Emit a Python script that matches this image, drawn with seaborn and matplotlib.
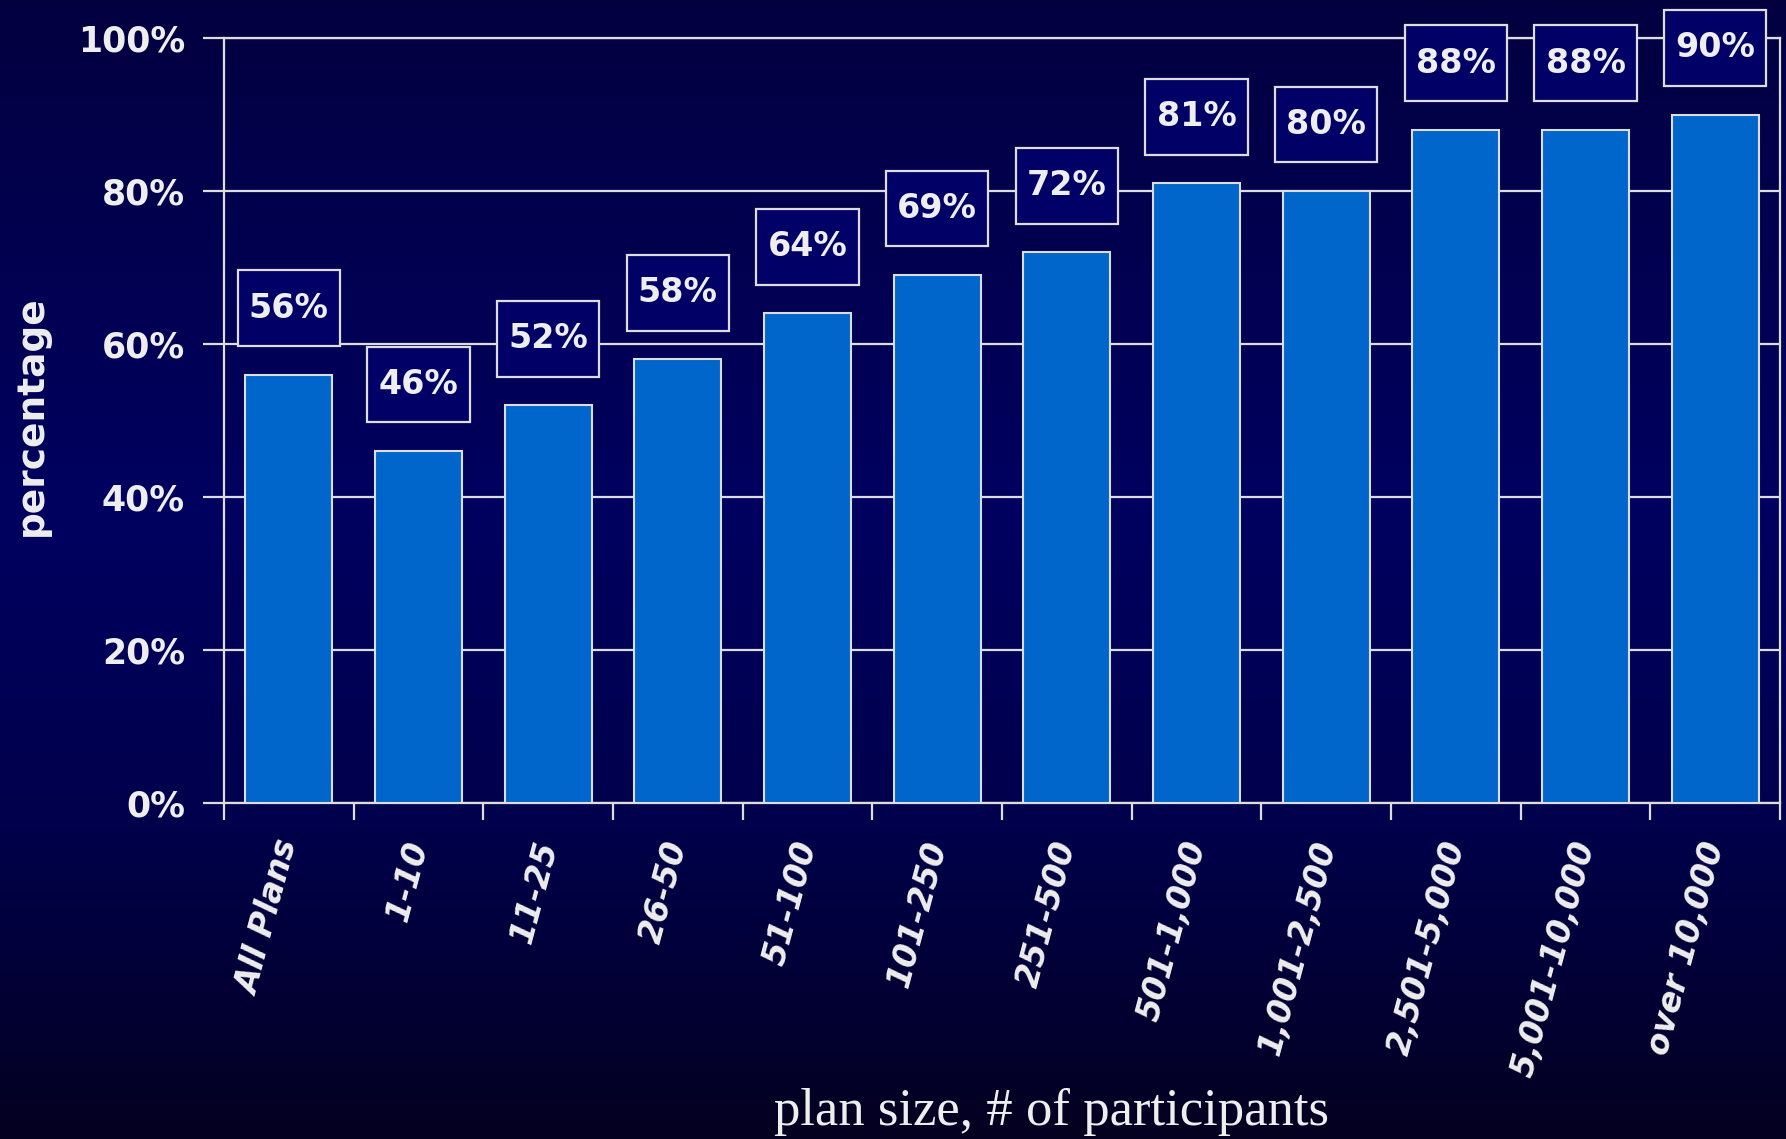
import numpy as np
import pandas as pd
import matplotlib
matplotlib.use("Agg")
import matplotlib.pyplot as plt
from matplotlib.colors import LinearSegmentedColormap
from matplotlib.patches import Rectangle
import seaborn as sns

categories = ["All Plans", "1-10", "11-25", "26-50", "51-100", "101-250", "251-500",
              "501-1,000", "1,001-2,500", "2,501-5,000", "5,001-10,000", "over 10,000"]
values = [56, 46, 52, 58, 64, 69, 72, 81, 80, 88, 88, 90]
yticks = [0, 20, 40, 60, 80, 100]
ytick_labels = ["0%", "20%", "40%", "60%", "80%", "100%"]

sns.set_theme(style="white")
plt.rcParams['font.family'] = ['DejaVu Sans']

W, H, DPI = 1786, 1139, 100
fig = plt.figure(figsize=(W / DPI, H / DPI), dpi=DPI)

# background gradient
bg = fig.add_axes([0, 0, 1, 1], zorder=-10)
cmap = LinearSegmentedColormap.from_list(
    "bg", [(0.0, "#030040"), (0.45, "#000060"), (0.72, "#00004c"), (1.0, "#040020")])
grad = np.linspace(0, 1, 256).reshape(-1, 1)
bg.imshow(grad, aspect="auto", cmap=cmap, extent=[0, 1, 0, 1], origin="upper")
bg.set_axis_off()

TXT = "#EEEEEE"
LINE = "#DDDDDD"

ax = fig.add_axes([224 / W, 1 - 803 / H, (1780 - 224) / W, (803 - 38) / H])
ax.patch.set_alpha(0)

df = pd.DataFrame({"plan": categories, "pct": values})
sns.barplot(data=df, x="plan", y="pct", color="#0066CC", edgecolor=LINE,
            linewidth=1.5, width=0.67, saturation=1, ax=ax, zorder=3)

ax.set_xlim(-0.5, len(categories) - 0.5)
ax.set_ylim(0, 100)
ax.set_axisbelow(True)
ax.yaxis.grid(True, color=LINE, linewidth=1.6, zorder=0)
ax.xaxis.grid(False)

for s in ["left", "bottom", "right", "top"]:
    ax.spines[s].set_color(LINE)
    ax.spines[s].set_linewidth(1.6)
    ax.spines[s].set_visible(True)

ax.set_yticks(yticks)
ax.set_yticklabels(ytick_labels, fontsize=25, fontweight="bold", color=TXT)
ax.tick_params(axis="y", which="major", left=True, length=15, width=1.6, color=LINE, pad=13)

# major ticks at category boundaries, labels on minor ticks at centers
ax.set_xticks(np.arange(-0.5, len(categories), 1))
ax.set_xticklabels([""] * (len(categories) + 1))
ax.tick_params(axis="x", which="major", bottom=True, length=12, width=1.6, color=LINE)
ax.set_xticks(np.arange(len(categories)), minor=True)
ax.set_xticklabels(categories, minor=True, rotation=75, ha="right", va="center",
                   rotation_mode="anchor", fontsize=23.5, fontweight="bold",
                   fontstyle="italic", color=TXT)
ax.tick_params(axis="x", which="minor", bottom=True, length=0, pad=28)
ax.set_xlabel("")
ax.set_ylabel("")

# value label boxes
bw, bh, off = 0.79, 9.9, 8.7
for i, v in enumerate(values):
    cy = v + off
    ax.add_patch(Rectangle((i - bw / 2, cy - bh / 2), bw, bh, facecolor="#000066",
                           edgecolor=LINE, linewidth=1.6, zorder=5, clip_on=False))
    ax.text(i, cy, f"{v}%", ha="center", va="center", fontsize=24, fontweight="bold",
            color=TXT, zorder=6, clip_on=False)

fig.text(32 / W, 1 - 416 / H, "percentage", rotation=90, ha="center", va="center",
         fontsize=27, fontweight="bold", color=TXT)
fig.text(1052 / W, 1 - 1112 / H, "plan size, # of participants", ha="center", va="center",
         fontsize=38, color=TXT, family=["Liberation Serif", "DejaVu Serif"])

fig.savefig("out.png", dpi=DPI, facecolor="#000050")
